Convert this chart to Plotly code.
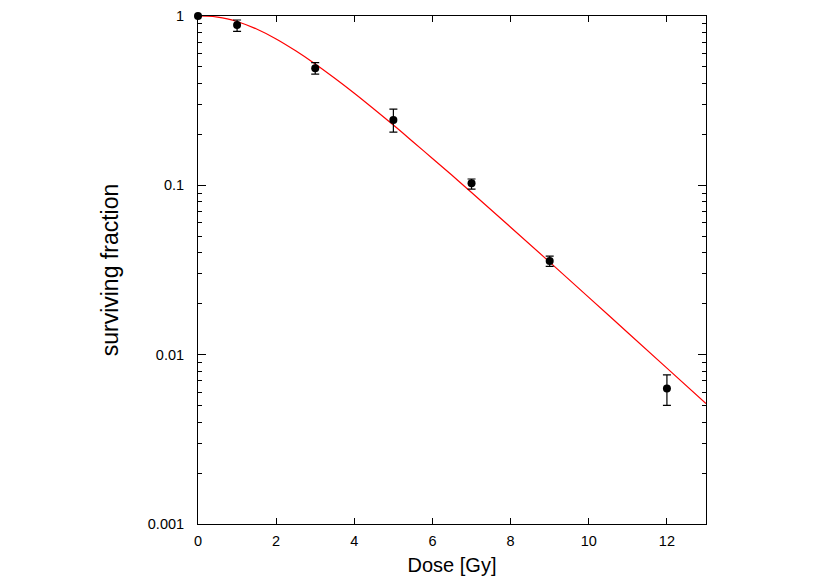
"""Cell survival curve: measured surviving fraction vs dose with fitted curve."""

import plotly.graph_objects as go

# measured points
dose = [0, 1, 3, 5, 7, 9, 12]
surv = [1.0, 0.885, 0.491, 0.243, 0.1027, 0.0357, 0.00632]
err_plus = [0.0, 0.062, 0.039, 0.039, 0.0063, 0.0025, 0.00128]
err_minus = [0.0, 0.074, 0.037, 0.037, 0.0077, 0.0025, 0.0013]

# fitted curve
fit_dose = [0, 0.25, 0.5, 0.75, 1, 1.5, 2, 2.5, 3, 3.5, 4, 4.5, 5, 5.5,
            6, 6.5, 7, 8, 9, 10, 11, 12, 13]
fit_surv = [1.0, 0.9975, 0.9855, 0.962, 0.9286, 0.838, 0.732, 0.623, 0.521,
            0.429, 0.350, 0.2825, 0.227, 0.181, 0.144, 0.1146, 0.0907,
            0.0566, 0.0352, 0.0218, 0.01347, 0.00833, 0.00515]

y_ticks = [0.001, 0.01, 0.1, 1]
y_labels = ["0.001", "0.01", "0.1", "1"]
x_ticks = [0, 2, 4, 6, 8, 10, 12]

fig = go.Figure()
fig.add_trace(go.Scatter(
    x=fit_dose, y=fit_surv, mode="lines",
    line={"color": "#ff0000", "width": 1.2, "shape": "spline"},
    showlegend=False,
))
fig.add_trace(go.Scatter(
    x=dose, y=surv, mode="markers",
    marker={"color": "black", "size": 8},
    error_y={"type": "data", "symmetric": False, "array": err_plus,
             "arrayminus": err_minus, "color": "black", "thickness": 1.2,
             "width": 4},
    cliponaxis=False,
    showlegend=False,
))

# the page body adds an 8px offset, margins below compensate for it
fig.update_layout(
    width=830, height=581,
    margin={"l": 190, "r": 132, "t": 8, "b": 65},
    paper_bgcolor="white", plot_bgcolor="white",
    font={"family": "Liberation Sans, Arial, sans-serif", "color": "black", "size": 14.5},
    xaxis={
        "range": [0, 13], "tickvals": x_ticks, "ticks": "inside", "ticklen": 6,
        "tickcolor": "black", "showgrid": False, "zeroline": False,
        "showline": True, "linecolor": "black", "linewidth": 1, "mirror": "ticks",
        "ticklabelstandoff": 4, "automargin": False, "ticklabeloverflow": "allow",
        "title": {"text": "Dose [Gy]", "font": {"size": 20}, "standoff": 9},
    },
    yaxis={
        "type": "log", "range": [-3, 0], "tickvals": y_ticks, "ticktext": y_labels,
        "ticks": "inside", "ticklen": 8, "tickcolor": "black", "showgrid": False,
        "zeroline": False, "showline": True, "linecolor": "black", "linewidth": 1,
        "mirror": "ticks", "ticklabelstandoff": 10, "automargin": False,
        "ticklabeloverflow": "allow",
        "minor": {"ticks": "inside", "ticklen": 4, "tickcolor": "black",
                  "dtick": "D1", "showgrid": False},
        "title": {"text": "surviving fraction", "font": {"size": 23}, "standoff": 22},
    },
)

fig.write_html("out.html")
